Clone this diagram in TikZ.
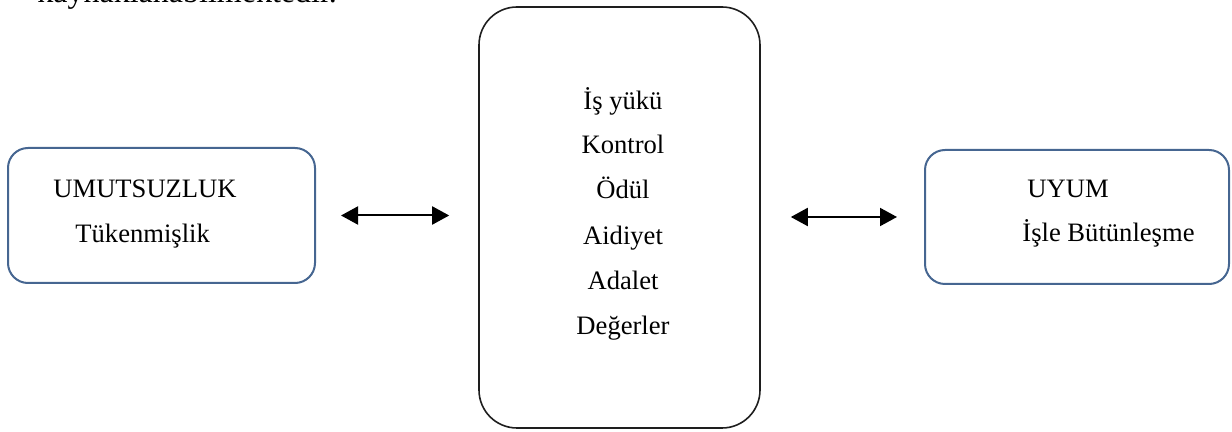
\documentclass[tikz,border=0pt]{standalone}
\usepackage{fontspec}
\setmainfont{Liberation Serif}
\usetikzlibrary{arrows.meta}
\definecolor{boxblue}{RGB}{70,102,145}
\definecolor{boxdark}{RGB}{30,30,30}
\begin{document}
\begin{tikzpicture}[x=0.5pt,y=-0.5pt,
  txt/.style={inner sep=0pt,anchor=base west,font=\fontsize{13.3}{16}\selectfont},
  ctxt/.style={inner sep=0pt,anchor=base,font=\fontsize{13.3}{16}\selectfont},
  sidebox/.style={draw=boxblue,line width=1pt,rounded corners=10pt,inner sep=0pt},
  midbox/.style={draw=boxdark,line width=0.8pt,rounded corners=19pt,inner sep=0pt},
  arr/.style={line width=1pt,{Triangle[length=8.5pt,width=9pt]}-{Triangle[length=8.5pt,width=9pt]}}]
\useasboundingbox (0,0) rectangle (1232,432);
\clip (0,0) rectangle (1232,432);
% tail of the preceding paragraph
\node[inner sep=0pt,anchor=base west,font=\fontsize{16}{19}\selectfont] (para) at (37,2.5) {kaynaklanabilmektedir.};
% boxes
\node[sidebox,minimum width=153.5pt,minimum height=67.5pt] (L) at (161.5,215.5) {};
\node[midbox,minimum width=140.5pt,minimum height=210.5pt] (M) at (619.5,217.5) {};
\node[sidebox,minimum width=152pt,minimum height=67pt] (R) at (1077,217) {};
% left box text
\node[txt] (l1) at (53,198) {UMUTSUZLUK};
\node[txt] (l2) at (75,243) {Tükenmişlik};
% centre box text
\node[ctxt] (m1) at (623,110) {İş yükü};
\node[ctxt] (m2) at (623,154) {Kontrol};
\node[ctxt] (m3) at (623,199) {Ödül};
\node[ctxt] (m4) at (623,245) {Aidiyet};
\node[ctxt] (m5) at (623,290) {Adalet};
\node[ctxt] (m6) at (623,335) {Değerler};
% right box text
\node[txt] (r1) at (1027,198) {UYUM};
\node[txt] (r2) at (1022,242) {İşle Bütünleşme};
% connectors
\draw[arr,shorten <=12.5pt,shorten >=14.5pt] (L.east) -- (L.east -| M.west);
\draw[arr,shorten <=15pt,shorten >=13.5pt] (M.east |- R.west) -- (R.west);
\end{tikzpicture}
\end{document}
